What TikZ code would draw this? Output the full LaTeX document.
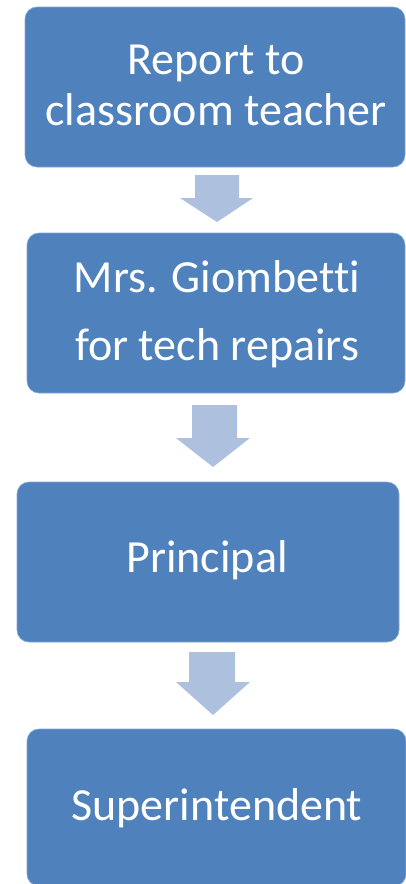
\documentclass[tikz,border=0pt]{standalone}
\usepackage{fontspec}
\setmainfont[Ligatures=NoCommon]{Carlito}
\definecolor{boxblue}{HTML}{4F81BD}
\definecolor{arrowblue}{HTML}{ADC0DD}
\begin{document}
\begin{tikzpicture}[x=1pt,y=-1pt,
  stepbox/.style={draw=boxblue!70!white, line width=0.6pt, fill=boxblue, rounded corners=12pt, inner sep=0pt, outer sep=0pt},
  lbl/.style={text=white, font=\fontsize{46}{54}\selectfont, anchor=base, inner sep=0pt},
  blockarrow/.style={fill=arrowblue, draw=none}]
\useasboundingbox (0,0) rectangle (406,884);
\node[stepbox, minimum width=380pt, minimum height=160pt] (b1) at (215,87) {};
\node[stepbox, minimum width=378pt, minimum height=160pt] (b2) at (216,313) {};
\node[stepbox, minimum width=382pt, minimum height=160pt] (b3) at (208,562) {};
\node[stepbox, minimum width=379pt, minimum height=157pt] (b4) at (216.5,807.5) {};
\node[lbl] (t1a) at (216,74) {Report to};
\node[lbl] (t1b) at (216,125) {classroom teacher};
\node[lbl] (t2a) at (217,292) {Mrs. Giombetti};
\node[lbl] (t2b) at (217,360) {for tech repairs};
\node[lbl] (t3) at (207,572) {Principal};
\node[lbl] (t4) at (217,820) {Superintendent};
\fill[blockarrow] (195,175) -- (239,175) -- (239,198) -- (253,198) -- (217,222) -- (180,198) -- (195,198) -- cycle;
\fill[blockarrow] (192,405) -- (237,405) -- (237,438) -- (250,438) -- (213,467) -- (176,438) -- (192,438) -- cycle;
\fill[blockarrow] (189,652) -- (235,652) -- (235,682) -- (250,682) -- (213,715) -- (176,682) -- (189,682) -- cycle;
\end{tikzpicture}
\end{document}
